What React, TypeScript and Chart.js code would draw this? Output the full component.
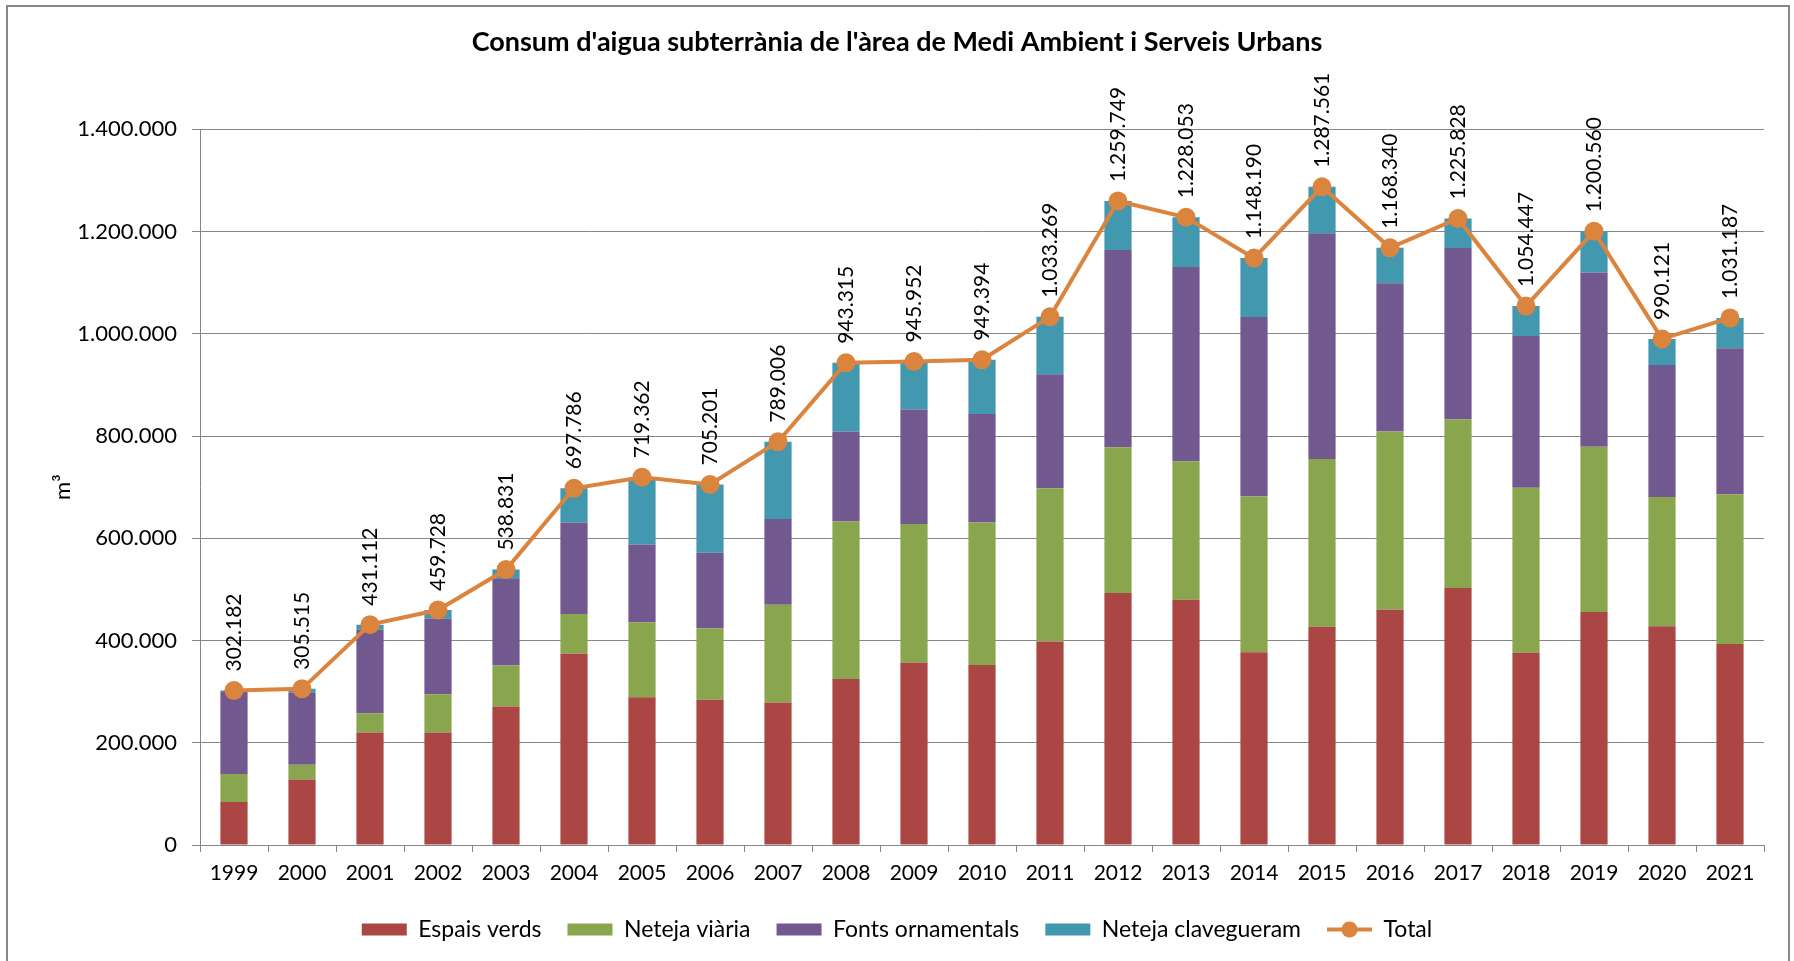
import React, { useEffect, useRef } from "react";
import { Chart, registerables } from "chart.js";

Chart.register(...registerables);

const TITLE = "Consum d'aigua subterrània de l'àrea de Medi Ambient i Serveis Urbans";

const years = [
  "1999", "2000", "2001", "2002", "2003", "2004", "2005", "2006", "2007", "2008", "2009", "2010",
  "2011", "2012", "2013", "2014", "2015", "2016", "2017", "2018", "2019", "2020", "2021",
];

const espaisVerds = [
  84000, 128000, 220000, 220000, 271000, 374000, 289000, 284000, 279000, 325000, 357000, 352000,
  398000, 493000, 480000, 377000, 427000, 460000, 503000, 376000, 456000, 428000, 393000,
];

const netejaViaria = [
  55000, 29000, 38000, 75000, 80000, 78000, 147000, 140000, 191000, 308000, 271000, 279000,
  300000, 285000, 271000, 305000, 328000, 349000, 330000, 323000, 323000, 253000, 293000,
];

const fontsOrnamentals = [
  162000, 141000, 163000, 148000, 171000, 179000, 152000, 148000, 168000, 176000, 224000, 212000,
  223000, 386000, 380000, 351000, 442000, 290000, 335000, 297000, 341000, 258000, 286000,
];

const netejaClavegueram = [
  1182, 7515, 10112, 16728, 16831, 66786, 131362, 133201, 151006, 134315, 93952, 106394,
  112269, 95749, 97053, 115190, 90561, 69340, 57828, 58447, 80560, 51121, 59187,
];

const total = [
  302182, 305515, 431112, 459728, 538831, 697786, 719362, 705201, 789006, 943315, 945952, 949394,
  1033269, 1259749, 1228053, 1148190, 1287561, 1168340, 1225828, 1054447, 1200560, 990121, 1031187,
];

const seriesNames = ["Espais verds", "Neteja viària", "Fonts ornamentals", "Neteja clavegueram", "Total"];
const seriesColors = ["#AA4643", "#89A54E", "#71588F", "#4198AF", "#DB843D"];

const FONT = "Lato, 'Open Sans', sans-serif";
const GRID = "#868686";

function fmt(v: number): string {
  const s = Math.round(v).toString();
  return s.replace(/\B(?=(\d{3})+(?!\d))/g, ".");
}

const totalLabelsPlugin = {
  id: "totalLabels",
  afterDatasetsDraw(chart: any) {
    const ctx = chart.ctx;
    const idx = chart.data.datasets.findIndex((d: any) => d.type === "line");
    if (idx < 0) return;
    const meta = chart.getDatasetMeta(idx);
    const data = chart.data.datasets[idx].data;
    ctx.save();
    ctx.font = `21px ${FONT}`;
    ctx.fillStyle = "#000";
    ctx.textAlign = "left";
    ctx.textBaseline = "middle";
    meta.data.forEach((pt: any, i: number) => {
      ctx.save();
      ctx.translate(pt.x, pt.y - 19);
      ctx.rotate(-Math.PI / 2);
      ctx.fillText(fmt(data[i]), 0, 0);
      ctx.restore();
    });
    ctx.restore();
  },
};

const legendMarkerPlugin = {
  id: "legendMarker",
  afterDraw(chart: any) {
    const legend = chart.legend;
    if (!legend || !legend.legendItems) return;
    const ctx = chart.ctx;
    legend.legendItems.forEach((item: any, i: number) => {
      const ds = chart.data.datasets[item.datasetIndex];
      if (!ds || ds.type !== "line") return;
      const box = legend.legendHitBoxes[i];
      const bw = legend.options.labels.pointStyleWidth;
      const fs = legend.options.labels.font.size;
      ctx.save();
      ctx.fillStyle = ds.borderColor;
      ctx.beginPath();
      ctx.arc(box.left + bw / 2, box.top + fs / 2, 8, 0, Math.PI * 2);
      ctx.fill();
      ctx.restore();
    });
  },
};

export default function App() {
  const canvasRef = useRef<HTMLCanvasElement | null>(null);

  useEffect(() => {
    const canvas = canvasRef.current;
    if (!canvas) return;
    const barSeries = [espaisVerds, netejaViaria, fontsOrnamentals, netejaClavegueram];
    const datasets: any[] = barSeries.map((vals, i) => ({
      type: "bar",
      label: seriesNames[i],
      data: vals,
      backgroundColor: seriesColors[i],
      borderWidth: 0,
      barPercentage: 0.4,
      categoryPercentage: 1,
      stack: "s",
      order: 1,
    }));
    datasets.push({
      type: "line",
      label: seriesNames[4],
      data: total,
      borderColor: seriesColors[4],
      backgroundColor: seriesColors[4],
      borderWidth: 4,
      pointStyle: "circle",
      pointRadius: 9.5,
      pointBorderWidth: 0,
      pointBackgroundColor: seriesColors[4],
      tension: 0,
      stack: "total",
      order: 0,
      clip: false,
    });

    const chart = new Chart(canvas, {
      type: "bar",
      data: { labels: years, datasets },
      plugins: [totalLabelsPlugin, legendMarkerPlugin],
      options: {
        responsive: false,
        animation: false,
        devicePixelRatio: 1,
        layout: { padding: { left: 30, right: 30, top: 0, bottom: 10 } },
        plugins: {
          title: {
            display: true,
            text: TITLE,
            color: "#000",
            font: { family: FONT, size: 27, weight: "bold" },
            padding: { top: 26, bottom: 71 },
          },
          legend: {
            position: "bottom",
            labels: {
              usePointStyle: true,
              pointStyleWidth: 45,
              boxHeight: 12,
              padding: 26,
              color: "#000",
              font: { family: FONT, size: 23 },
              sort: (a: any, b: any) => a.datasetIndex - b.datasetIndex,
              generateLabels: (ch: any) =>
                ch.data.datasets.map((ds: any, i: number) => ({
                  text: ds.label,
                  fillStyle: ds.backgroundColor,
                  strokeStyle: ds.type === "line" ? ds.borderColor : ds.backgroundColor,
                  lineWidth: ds.type === "line" ? 4 : 0,
                  pointStyle: ds.type === "line" ? "line" : "rect",
                  datasetIndex: i,
                  hidden: false,
                  fontColor: "#000",
                })),
            },
          },
          tooltip: { enabled: false },
        },
        scales: {
          x: {
            stacked: true,
            grid: {
              display: true,
              drawOnChartArea: false,
              drawTicks: true,
              tickLength: 7,
              color: GRID,
              offset: true,
            },
            border: { color: GRID, width: 1 },
            ticks: { color: "#000", font: { family: FONT, size: 21 }, padding: 9, maxRotation: 0 },
            afterFit: (s: any) => {
              s.height = 47;
            },
          },
          y: {
            stacked: true,
            min: 0,
            max: 1400000,
            grid: { color: GRID, tickLength: 8 },
            border: { color: GRID, width: 1 },
            ticks: {
              stepSize: 200000,
              color: "#000",
              font: { family: FONT, size: 22 },
              padding: 15,
              callback: (v: any) => fmt(Number(v)),
            },
            title: {
              display: true,
              text: "m³",
              color: "#000",
              font: { family: FONT, size: 22 },
              padding: { top: 20, bottom: 0 },
            },
            afterFit: (s: any) => {
              s.width = 170;
            },
          },
        },
      } as any,
    });
    return () => chart.destroy();
  }, []);

  return (
    <div style={{ position: "fixed", left: 0, top: 0, width: 1794, height: 961, background: "#fff" }}>
      <canvas ref={canvasRef} width={1794} height={961} style={{ display: "block", width: 1794, height: 961 }} />
      <div
        style={{
          position: "absolute",
          left: 6,
          top: 5,
          width: 1784,
          height: 970,
          border: "2px solid #868686",
          boxSizing: "border-box",
          pointerEvents: "none",
        }}
      />
    </div>
  );
}
